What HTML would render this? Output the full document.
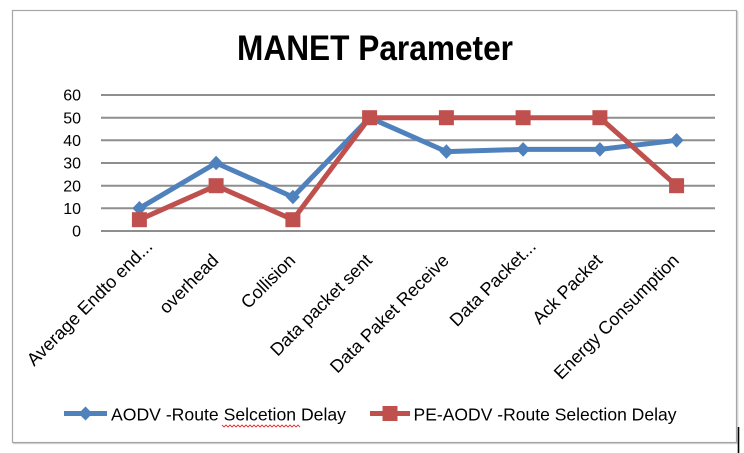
<!DOCTYPE html>
<html><head><meta charset="utf-8"><style>
html,body{margin:0;padding:0;background:#fff;}
svg{display:block;}
text{font-family:"Liberation Sans",sans-serif;fill:#000;}
</style></head><body>
<svg width="744" height="453" viewBox="0 0 744 453" xmlns="http://www.w3.org/2000/svg">
<rect x="0" y="0" width="744" height="453" fill="#fff"/>
<!-- outer border -->
<rect x="12.5" y="10.5" width="724" height="432" fill="none" stroke="#a6a6a6" stroke-width="1.2"/>
<line x1="737.8" y1="11" x2="737.8" y2="443.5" stroke="#c8c8c8" stroke-width="1"/>
<line x1="13" y1="443.6" x2="738" y2="443.6" stroke="#c8c8c8" stroke-width="1"/>
<line x1="738.5" y1="427" x2="738.5" y2="453" stroke="#000" stroke-width="1.6"/>

<!-- title -->
<text x="237" y="60" font-size="35" font-weight="bold" textLength="276" lengthAdjust="spacingAndGlyphs">MANET Parameter</text>

<!-- gridlines -->
<g stroke="#8e8e8e" stroke-width="2">
<line x1="101" y1="95" x2="715" y2="95"/>
<line x1="101" y1="117.7" x2="715" y2="117.7"/>
<line x1="101" y1="140.3" x2="715" y2="140.3"/>
<line x1="101" y1="163" x2="715" y2="163"/>
<line x1="101" y1="185.7" x2="715" y2="185.7"/>
<line x1="101" y1="208.3" x2="715" y2="208.3"/>
<line x1="101" y1="231" x2="715" y2="231"/>
</g>

<!-- y labels -->
<g font-size="16" text-anchor="end">
<text x="81" y="100.7">60</text>
<text x="81" y="123.4">50</text>
<text x="81" y="146">40</text>
<text x="81" y="168.7">30</text>
<text x="81" y="191.4">20</text>
<text x="81" y="214">10</text>
<text x="81" y="236.7">0</text>
</g>

<!-- category labels -->
<g font-size="18" text-anchor="end">
<text transform="translate(153.5,247.5) rotate(-45)">Average Endto end...</text>
<text transform="translate(219.6,261.5) rotate(-45)">overhead</text>
<text transform="translate(296.4,261.5) rotate(-45)">Collision</text>
<text transform="translate(373.1,261.5) rotate(-45)">Data packet sent</text>
<text transform="translate(449.9,261.5) rotate(-45)">Data Paket Receive</text>
<text transform="translate(537,247.5) rotate(-45)">Data Packet...</text>
<text transform="translate(603.4,261.5) rotate(-45)">Ack Packet</text>
<text transform="translate(680.1,261.5) rotate(-45)">Energy Consumption</text>
</g>

<!-- AODV series -->
<polyline fill="none" stroke="#4F81BD" stroke-width="5" stroke-linejoin="round"
 points="139.4,208.3 216.1,163 292.9,197 369.6,117.7 446.4,151.6 523.1,149.4 599.9,149.4 676.6,140.3"/>
<g fill="#4F81BD">
<polygon points="139.4,201 146.4,208.3 139.4,215.6 132.4,208.3"/>
<polygon points="216.1,155.7 223.1,163 216.1,170.3 209.1,163"/>
<polygon points="292.9,189.7 299.9,197 292.9,204.3 285.9,197"/>
<polygon points="369.6,110.4 376.6,117.7 369.6,125 362.6,117.7"/>
<polygon points="446.4,144.3 453.4,151.6 446.4,158.9 439.4,151.6"/>
<polygon points="523.1,142.1 530.1,149.4 523.1,156.7 516.1,149.4"/>
<polygon points="599.9,142.1 606.9,149.4 599.9,156.7 592.9,149.4"/>
<polygon points="676.6,133 683.6,140.3 676.6,147.6 669.6,140.3"/>
</g>

<!-- PE-AODV series -->
<polyline fill="none" stroke="#C0504D" stroke-width="5" stroke-linejoin="round"
 points="139.4,219.7 216.1,185.7 292.9,219.7 369.6,117.7 446.4,117.7 523.1,117.7 599.9,117.7 676.6,185.7"/>
<g fill="#C0504D">
<rect x="131.9" y="212.2" width="15" height="15"/>
<rect x="208.6" y="178.2" width="15" height="15"/>
<rect x="285.4" y="212.2" width="15" height="15"/>
<rect x="362.1" y="110.2" width="15" height="15"/>
<rect x="438.9" y="110.2" width="15" height="15"/>
<rect x="515.6" y="110.2" width="15" height="15"/>
<rect x="592.4" y="110.2" width="15" height="15"/>
<rect x="669.1" y="178.2" width="15" height="15"/>
</g>

<!-- legend -->
<line x1="64" y1="413.5" x2="107" y2="413.5" stroke="#4F81BD" stroke-width="5"/>
<polygon points="85.5,406.5 92.5,413.5 85.5,420.5 78.5,413.5" fill="#4F81BD"/>
<text x="111" y="420.5" font-size="17.6" textLength="235" lengthAdjust="spacingAndGlyphs">AODV -Route Selcetion Delay</text>
<polyline fill="none" stroke="#e03030" stroke-width="0.9" points="222,425 224,427 226,425 228,427 230,425 232,427 234,425 236,427 238,425 240,427 242,425 244,427 246,425 248,427 250,425 252,427 254,425 256,427 258,425 260,427 262,425 264,427 266,425 268,427 270,425 272,427 274,425 276,427 278,425 280,427 282,425 284,427 286,425 288,427 290,425 292,427 294,425 296,427 298,425 300,427"/>
<line x1="370" y1="413.5" x2="410" y2="413.5" stroke="#C0504D" stroke-width="5"/>
<rect x="382.5" y="406" width="15" height="15" fill="#C0504D"/>
<text x="413.5" y="420.5" font-size="17.6" textLength="263" lengthAdjust="spacingAndGlyphs">PE-AODV -Route Selection Delay</text>
</svg>
</body></html>
